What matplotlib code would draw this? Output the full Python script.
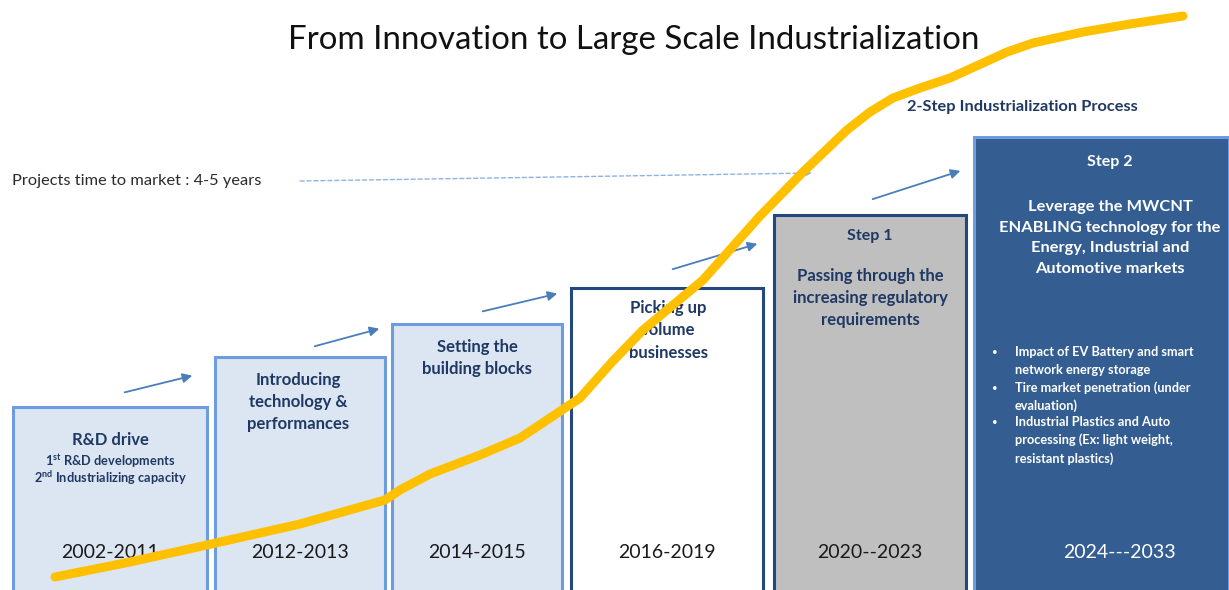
import matplotlib
matplotlib.use("Agg")
import matplotlib.pyplot as plt
from matplotlib.patches import Rectangle, FancyArrowPatch

plt.rcParams['font.family'] = ['Lato', 'DejaVu Sans']
plt.rcParams['mathtext.fontset'] = 'custom'
plt.rcParams['mathtext.rm'] = 'Lato:bold'

# ---- data ----
title = "From Innovation to Large Scale Industrialization"
periods = ["2002-2011", "2012-2013", "2014-2015", "2016-2019", "2020--2023", "2024---2033"]
stage_labels = [
    "R&D drive",
    "Introducing\ntechnology &\nperformances",
    "Setting the\nbuilding blocks",
    "Picking up\nvolume\nbusinesses",
    "Passing through the\nincreasing regulatory\nrequirements",
    "Leverage the MWCNT\nENABLING technology for the\nEnergy, Industrial and\nAutomotive markets",
]
step_names = ["", "", "", "", "Step 1", "Step 2"]
rd_details = ["1$^{\\mathrm{st}}$ R&D developments", "2$^{\\mathrm{nd}}$ Industrializing capacity"]
step2_bullets = [
    "Impact of EV Battery and smart\nnetwork energy storage",
    "Tire market penetration (under\nevaluation)",
    "Industrial Plastics and Auto\nprocessing (Ex: light weight,\nresistant plastics)",
]
# staircase level of each stage (top edge, picture pixels)
stage_tops = [407, 357, 324, 288, 215, 137]

# growth curve
curve_x = [55, 130, 207, 300, 385, 400, 430, 480, 520, 550, 580, 612, 643, 703,
           760, 803, 847, 870, 893, 920, 950, 983, 1007, 1033, 1083, 1130, 1183]
curve_y = [577, 562, 545, 524, 500, 490, 474, 455, 438, 418, 398, 362, 330, 280,
           216, 172, 130, 112, 98, 88, 78, 63, 52, 43, 32, 24, 16]

# ---- layout / styles ----
box_left = [13, 215, 392, 571, 774, 974]
box_right = [207, 385, 562, 763, 966, 1229]
face = ["#dce6f2", "#dce6f2", "#dce6f2", "#ffffff", "#bfbfbf", "#345e92"]
edge = ["#6d9de0", "#6d9de0", "#6d9de0", "#23487e", "#23487e", "#6d9de0"]
navy = "#1f3864"

fig = plt.figure(figsize=(12.29, 5.9), dpi=100)
ax = fig.add_axes([0, 0, 1, 1])
ax.set_xlim(0, 1229)
ax.set_ylim(590, 0)
ax.axis("off")

for i in range(len(periods)):
    l, r, t = box_left[i], box_right[i], stage_tops[i]
    ax.add_patch(Rectangle((l, t), r - l, 620 - t, facecolor=face[i],
                           edgecolor=edge[i], linewidth=2.2, zorder=1))
    cx = (l + r) / 2
    ycol = "white" if i == 5 else "#1a1a1a"
    ax.text(cx if i < 5 else cx + 18, 552, periods[i], ha="center", va="center",
            fontsize=14, color=ycol, zorder=2)

# stage texts
ax.text(110, 440, stage_labels[0], ha="center", va="center", fontsize=12,
        fontweight="bold", color=navy, zorder=2)
ax.text(110, 461, rd_details[0], ha="center", va="center", fontsize=9.2,
        fontweight="bold", color=navy, zorder=2)
ax.text(110, 478, rd_details[1], ha="center", va="center", fontsize=9.2,
        fontweight="bold", color=navy, zorder=2)

ax.text(298, 402, stage_labels[1], ha="center", va="center", fontsize=12,
        fontweight="bold", color=navy, linespacing=1.45, zorder=2)
ax.text(477, 358, stage_labels[2], ha="center", va="center", fontsize=12,
        fontweight="bold", color=navy, linespacing=1.5, zorder=2)
ax.text(668, 330, stage_labels[3], ha="center", va="center", fontsize=12,
        fontweight="bold", color=navy, linespacing=1.5, zorder=2)

ax.text(870, 236, step_names[4], ha="center", va="center", fontsize=11.5,
        fontweight="bold", color=navy, zorder=2)
ax.text(870, 298, stage_labels[4], ha="center", va="center", fontsize=12,
        fontweight="bold", color=navy, linespacing=1.5, zorder=2)

ax.text(1110, 162, step_names[5], ha="center", va="center", fontsize=11.5,
        fontweight="bold", color="white", zorder=2)
ax.text(1110, 238, stage_labels[5], ha="center", va="center", fontsize=11.8,
        fontweight="bold", color="white", linespacing=1.6, zorder=2)

by = 353
for b in step2_bullets:
    ax.text(992, by, "\u2022", ha="left", va="center", fontsize=7, color="white", zorder=2)
    ax.text(1015, by - 7, b, ha="left", va="top", fontsize=9.2, fontweight="bold",
            color="white", linespacing=1.55, zorder=2)
    by += 17.5 * (b.count("\n") + 1)

# small progress arrows
arrows = [((122, 393), (195, 375)), ((312, 347), (382, 328)), ((480, 312), (560, 293)),
          ((670, 270), (760, 243)), ((870, 200), (963, 170))]
for p0, p1 in arrows:
    ax.add_patch(FancyArrowPatch(p0, p1, arrowstyle="-|>", mutation_scale=14,
                                 color="#4a7ebb", linewidth=1.3, zorder=2))

# time to market
ax.text(12, 181, "Projects time to market : 4-5 years", ha="left", va="center",
        fontsize=11.8, color="#2b2b2b")
ax.add_patch(FancyArrowPatch((300, 181), (812, 173), arrowstyle="-|>", mutation_scale=8,
                             color="#8fb3e0", linewidth=1.0, linestyle=(0, (3, 2)),
                             shrinkA=0, shrinkB=0, zorder=2))

ax.text(907, 107, "2-Step Industrialization Process", ha="left", va="center",
        fontsize=11.8, fontweight="bold", color=navy)

ax.text(634, 40, title, ha="center", va="center", fontsize=23.8, color="#111111")

# growth curve
ax.plot(curve_x, curve_y, color="#ffc000", linewidth=6.5, solid_capstyle="round",
        solid_joinstyle="round", zorder=5)

fig.savefig("out.png", dpi=100)
